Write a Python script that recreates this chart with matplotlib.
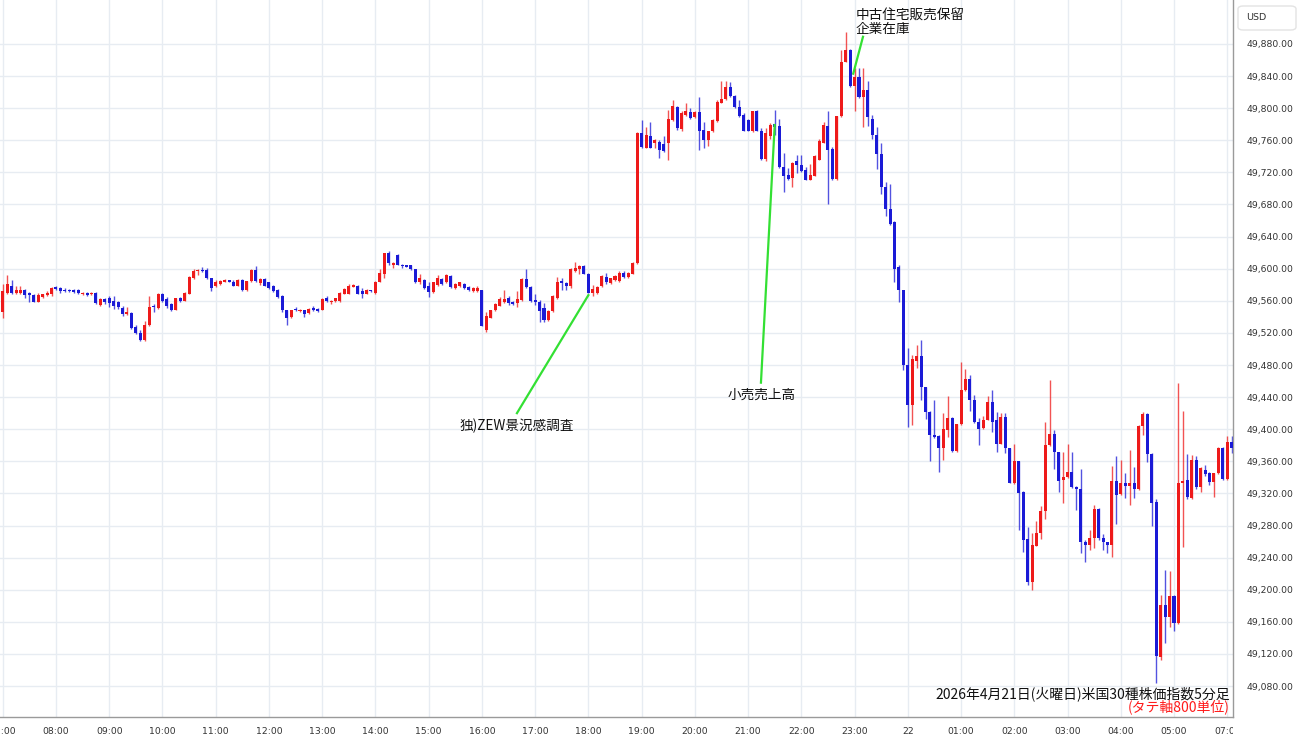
import matplotlib
matplotlib.use('Agg')
import matplotlib.pyplot as plt
import numpy as np
from matplotlib.patches import Rectangle, FancyBboxPatch
from matplotlib.transforms import blended_transform_factory

plt.rcParams['font.family'] = ['Noto Sans CJK JP', 'DejaVu Sans']

# ---- data: 5-minute candles from 07:00 (4/21) to 07:05 (4/22) ----
opens = [49546,49570,49579,49570,49570,49573,49570,49567,49559,49565,49567,49569,
         49577,49576,49574,49574,49574,49573,49568,49570,49568,49570,49555,49562,
         49563,49560,49558,49551,49543,49545,49527,49520,49511,49530,49554,49551,
         49568,49562,49556,49548,49563,49560,49569,49588,49597,49598,49598,49588,
         49579,49581,49584,49585,49584,49579,49586,49573,49585,49598,49582,49587,
         49583,49579,49574,49566,49548,49540,49550,49547,49548,49545,49551,49550,
         49549,49564,49559,49560,49560,49569,49569,49578,49579,49572,49569,49573,
         49570,49584,49593,49619,49605,49617,49605,49604,49604,49599,49583,49586,
         49578,49571,49580,49587,49583,49591,49576,49578,49581,49577,49572,49572,
         49573,49523,49539,49548,49554,49558,49564,49559,49557,49561,49587,49577,
         49561,49559,49551,49536,49547,49563,49585,49582,49578,49597,49599,49603,
         49594,49570,49570,49578,49590,49582,49586,49585,49595,49590,49594,49607,
         49769,49751,49765,49756,49758,49755,49756,49785,49802,49774,49792,49795,
         49789,49795,49773,49760,49771,49784,49807,49811,49826,49815,49801,49792,
         49785,49771,49797,49771,49737,49765,49780,49778,49727,49717,49713,49734,
         49729,49723,49711,49716,49736,49757,49778,49749,49712,49790,49858,49872,
         49828,49839,49814,49823,49787,49766,49743,49702,49674,49658,49602,49573,
         49480,49430,49485,49491,49452,49422,49393,49391,49377,49399,49414,49373,
         49406,49449,49463,49437,49409,49401,49412,49434,49411,49382,49415,49376,
         49333,49360,49322,49263,49209,49255,49271,49298,49380,49394,49371,49337,
         49340,49347,49328,49325,49260,49256,49264,49300,49264,49259,49256,49335,
         49319,49333,49329,49333,49325,49404,49419,49369,49309,49116,49181,49166,
         49192,49158,49333,49337,49314,49362,49328,49349,49346,49334,49345,49377,
         49338,49384]
highs = [49581,49592,49586,49578,49578,49575,49571,49568,49570,49569,49572,49577,
         49579,49577,49576,49575,49575,49575,49571,49571,49571,49571,49563,49563,
         49566,49566,49560,49553,49552,49546,49530,49524,49535,49566,49556,49570,
         49570,49565,49557,49564,49565,49571,49591,49599,49599,49602,49601,49589,
         49586,49586,49587,49586,49586,49587,49587,49585,49600,49603,49588,49588,
         49584,49580,49575,49567,49549,49549,49552,49550,49549,49551,49553,49551,
         49563,49566,49561,49564,49571,49576,49581,49581,49580,49576,49575,49574,
         49585,49599,49620,49622,49608,49618,49606,49605,49605,49600,49593,49587,
         49583,49584,49592,49588,49594,49592,49582,49584,49582,49578,49577,49578,
         49574,49546,49549,49557,49565,49574,49566,49560,49572,49588,49600,49578,
         49568,49561,49557,49548,49567,49590,49589,49584,49601,49608,49605,49604,
         49595,49580,49578,49592,49595,49589,49592,49597,49597,49596,49608,49770,
         49785,49777,49783,49762,49760,49765,49798,49810,49803,49796,49807,49800,
         49797,49814,49783,49772,49786,49810,49834,49834,49833,49816,49810,49794,
         49786,49797,49798,49775,49775,49781,49798,49786,49744,49725,49733,49742,
         49742,49727,49731,49742,49761,49783,49796,49752,49790,49873,49895,49874,
         49850,49850,49850,49834,49791,49776,49757,49708,49705,49659,49604,49574,
         49501,49492,49505,49511,49453,49423,49436,49393,49420,49441,49415,49406,
         49484,49475,49468,49443,49414,49416,49441,49449,49422,49420,49420,49377,
         49382,49361,49323,49278,49271,49286,49304,49409,49461,49399,49372,49372,
         49382,49372,49329,49351,49262,49274,49306,49302,49270,49260,49354,49367,
         49362,49346,49374,49353,49405,49422,49420,49370,49313,49194,49224,49223,
         49194,49457,49423,49369,49368,49366,49353,49356,49347,49346,49378,49378,
         49391,49391]
lows = [49539,49569,49568,49569,49569,49564,49558,49558,49558,49563,49566,49566,
        49574,49570,49571,49571,49570,49569,49567,49566,49567,49556,49554,49556,
        49552,49550,49550,49541,49542,49525,49519,49510,49510,49529,49546,49550,
        49558,49551,49547,49548,49558,49560,49568,49587,49592,49596,49587,49572,
        49577,49580,49583,49583,49578,49578,49572,49572,49584,49584,49580,49578,
        49575,49571,49564,49546,49530,49539,49547,49546,49540,49544,49547,49546,
        49548,49559,49556,49559,49559,49568,49568,49577,49568,49563,49568,49571,
        49569,49583,49589,49605,49601,49604,49601,49602,49598,49582,49581,49575,
        49565,49570,49579,49580,49582,49576,49575,49577,49575,49572,49571,49571,
        49528,49521,49538,49547,49553,49557,49555,49555,49552,49560,49576,49559,
        49555,49534,49534,49535,49546,49562,49574,49574,49576,49596,49594,49593,
        49570,49566,49569,49577,49581,49581,49585,49584,49589,49589,49593,49606,
        49750,49750,49750,49751,49738,49746,49735,49784,49773,49772,49790,49787,
        49788,49748,49751,49753,49770,49783,49806,49810,49814,49800,49789,49771,
        49771,49770,49771,49736,49734,49761,49767,49726,49696,49711,49702,49719,
        49721,49710,49710,49715,49735,49756,49680,49711,49711,49789,49857,49827,
        49796,49813,49777,49778,49762,49724,49693,49666,49654,49584,49559,49474,
        49403,49405,49476,49436,49413,49361,49389,49347,49362,49390,49372,49371,
        49405,49448,49423,49408,49380,49400,49411,49397,49372,49381,49370,49333,
        49332,49274,49247,49206,49200,49254,49263,49288,49379,49350,49322,49308,
        49339,49327,49299,49246,49235,49250,49252,49262,49250,49246,49241,49282,
        49318,49314,49305,49314,49324,49393,49359,49279,49084,49113,49133,49154,
        49148,49157,49253,49313,49313,49326,49322,49342,49331,49316,49344,49337,
        49337,49370]
closes = [49572,49581,49570,49573,49573,49567,49567,49559,49567,49568,49570,49576,
          49575,49572,49572,49572,49571,49570,49570,49567,49570,49557,49562,49558,
          49557,49554,49552,49543,49546,49526,49520,49511,49530,49552,49552,49569,
          49560,49553,49548,49563,49560,49570,49590,49597,49598,49597,49588,49576,
          49584,49585,49585,49584,49579,49586,49574,49585,49598,49585,49587,49579,
          49576,49572,49565,49548,49539,49548,49548,49549,49544,49550,49548,49547,
          49562,49560,49560,49563,49570,49575,49579,49579,49569,49568,49574,49572,
          49584,49595,49619,49607,49607,49605,49603,49603,49599,49584,49589,49576,
          49571,49583,49588,49581,49592,49577,49581,49583,49576,49573,49576,49576,
          49529,49541,49548,49556,49562,49562,49557,49556,49562,49587,49577,49560,
          49558,49547,49536,49547,49566,49584,49582,49579,49600,49601,49603,49593,
          49570,49575,49577,49591,49583,49588,49591,49595,49590,49595,49607,49769,
          49752,49767,49751,49760,49748,49747,49786,49803,49775,49794,49796,49788,
          49795,49772,49760,49771,49785,49808,49811,49826,49815,49801,49790,49771,
          49771,49796,49771,49737,49769,49779,49777,49727,49715,49712,49732,49729,
          49722,49711,49717,49740,49759,49779,49748,49712,49790,49858,49872,49828,
          49839,49814,49823,49789,49766,49743,49702,49674,49656,49600,49573,49480,
          49430,49488,49491,49453,49422,49393,49390,49376,49400,49414,49373,49406,
          49449,49463,49437,49409,49400,49412,49434,49409,49382,49415,49376,49333,
          49360,49321,49262,49209,49256,49271,49298,49380,49394,49371,49336,49341,
          49347,49328,49325,49259,49256,49264,49300,49264,49259,49256,49335,49318,
          49333,49329,49333,49325,49404,49419,49369,49308,49118,49181,49166,49192,
          49158,49333,49336,49316,49362,49328,49352,49344,49334,49345,49377,49338,
          49384,49376]

tick_idx = [0, 12, 24, 36, 48, 60, 72, 84, 96, 108, 120, 132, 144, 156, 168, 180,
            192, 204, 216, 228, 240, 252, 264, 276]
tick_labels = ['07:00', '08:00', '09:00', '10:00', '11:00', '12:00', '13:00', '14:00',
               '15:00', '16:00', '17:00', '18:00', '19:00', '20:00', '21:00', '22:00',
               '23:00', '22', '01:00', '02:00', '03:00', '04:00', '05:00', '07:00']
y_ticks = list(range(49080, 49881, 40))

events = [  # (candle index, text lines)
    (132, ['独)ZEW景況感調査']),
    (174, ['小売売上高']),
    (192, ['中古住宅販売保留', '企業在庫']),
]
title_text = '2026年4月21日(火曜日)米国30種株価指数5分足'
unit_text = '(タテ軸800単位)'

# ---- figure ----
W, H = 1300, 745
fig = plt.figure(figsize=(W / 100, H / 100), dpi=100)
ax = fig.add_axes([0, 28 / H, 1233 / W, 717 / H])

o = np.array(opens, float); h = np.array(highs, float)
l = np.array(lows, float); c = np.array(closes, float)
h = np.maximum(h, np.maximum(o, c)); l = np.minimum(l, np.minimum(o, c))
x = np.arange(len(o))
up = c >= o
RED, BLUE = '#ee1a1a', '#1a1ad6'
cols = np.where(up, RED, BLUE)

ax.vlines(x, l, h, colors=cols, linewidth=1.0, alpha=0.75, zorder=2)
body_h = np.maximum(np.abs(c - o), 1.6)
body_b = np.where(np.abs(c - o) < 1.6, (o + c) / 2 - 0.8, np.minimum(o, c))
ax.bar(x, body_h, bottom=body_b, width=0.68, color=cols, linewidth=0, zorder=3)

ax.set_xlim(-0.62, 277.3)
ax.set_ylim(49041.4, 49934.8)

ax.set_xticks(tick_idx)
ax.set_xticklabels([])
ax.yaxis.tick_right()
ax.set_yticks(y_ticks)
ax.set_yticklabels([f'{v:,.2f}' for v in y_ticks], family='DejaVu Sans')
ax.tick_params(axis='y', length=0, pad=10, labelsize=6.7, labelcolor='#333333')
ax.tick_params(axis='x', length=0)
ax.grid(True, color='#e7ecf2', linewidth=1.0)
ax.set_axisbelow(True)
for s in ['top', 'left']:
    ax.spines[s].set_visible(False)
for s in ['right', 'bottom']:
    ax.spines[s].set_color('#9a9a9a')
    ax.spines[s].set_linewidth(1.0)

# x labels clipped at the price-axis edge
clip_rect = Rectangle((0, 0), 1233 / W, 1, transform=fig.transFigure)
trans_x = blended_transform_factory(ax.transData, ax.transAxes)
for ti, tl in zip(tick_idx, tick_labels):
    t = ax.text(ti, -14 / 717, tl, transform=trans_x, ha='center', va='center',
                fontsize=6.7, color='#333333', family='DejaVu Sans', clip_on=True)
    t.set_clip_path(clip_rect)

# event annotations
GREEN = '#33e033'
# ZEW
i0, lines0 = events[0]
ax.plot([i0, 115.9], [closes[i0] - 3, 49420], color=GREEN, linewidth=1.6, zorder=4)
ax.text(115.9, 49404, lines0[0], ha='center', va='center', fontsize=9.8, color='#111111')
# Retail sales
i1, lines1 = events[1]
ax.plot([i1, 170.9], [closes[i1] + 2, 49458], color=GREEN, linewidth=1.6, zorder=4)
ax.text(171.1, 49443, lines1[0], ha='center', va='center', fontsize=9.8, color='#111111')
# Pending home sales / business inventories
i2, lines2 = events[2]
ax.plot([i2 - 0.3, 193.9], [closes[i2] + 4, 49889], color=GREEN, linewidth=1.6, zorder=4)
ax.text(192.3, 49915, lines2[0], ha='left', va='center', fontsize=9.8, color='#111111')
ax.text(192.3, 49899, lines2[1], ha='left', va='center', fontsize=9.8, color='#111111')

# bottom-right caption
ax.text(1230 / 1233, (717 - 694) / 717, title_text, transform=ax.transAxes,
        ha='right', va='center', fontsize=10, color='#111111')
ax.text(1230 / 1233, (717 - 707) / 717, unit_text, transform=ax.transAxes,
        ha='right', va='center', fontsize=10, color='#ff1a1a')

# currency box
box = FancyBboxPatch((1238 / W, 1 - 30 / H), 58 / W, 24 / H,
                     boxstyle='round,pad=0,rounding_size=0.004',
                     transform=fig.transFigure, facecolor='white',
                     edgecolor='#e3e3e3', linewidth=1.0)
fig.patches.append(box)
fig.text(1246 / W, 1 - 17 / H, 'USD', ha='left', va='center', fontsize=6.8,
         color='#333333', family='DejaVu Sans')

fig.savefig('out.png', dpi=100, facecolor='white')
